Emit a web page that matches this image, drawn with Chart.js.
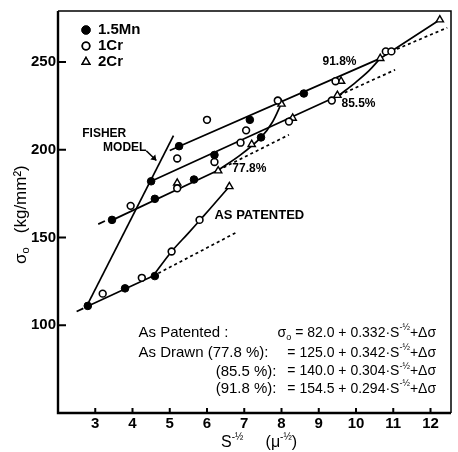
<!DOCTYPE html>
<html>
<head>
<meta charset="utf-8">
<script src="https://cdn.jsdelivr.net/npm/chart.js@4.4.0/dist/chart.umd.min.js"></script>
<style>
  html, body { margin: 0; padding: 0; background: #fff; }
</style>
</head>
<body>
<canvas id="myChart" width="458" height="452"></canvas>
<script>
// axis ticks
var xTicks = [3, 4, 5, 6, 7, 8, 9, 10, 11, 12];
var yTicks = [100, 150, 200, 250];

// measured points, x = S^-1/2, y = sigma0 (kg/mm2)
var mnX = [2.8, 3.8, 4.6, 3.45, 4.6, 4.5, 5.25, 5.65, 6.2, 7.15, 7.45, 8.6];
var mnY = [111, 121, 128, 160, 172, 182, 202, 183, 197, 217, 207, 232];
var crX = [3.2, 4.25, 5.05, 5.8, 3.95, 5.2, 5.2, 6.0, 6.2, 6.9, 7.05, 7.9, 8.2, 9.35, 9.45, 10.8, 10.95];
var crY = [118, 127, 142, 160, 168, 195, 178, 217, 193, 204, 211, 228, 216, 228, 239, 256, 256];
var cr2X = [5.2, 6.3, 6.6, 7.2, 8.0, 8.3, 9.5, 9.6, 10.65, 12.25];
var cr2Y = [181, 188, 179, 203, 226, 218, 231, 239, 252, 274];

// drawn lines
var fisherX = [2.75, 5.1], fisherY = [110, 208];
var baseLeadX = [2.5, 2.68], baseLeadY = [107.8, 109.6];
var baseX = [2.78, 4.55], baseY = [110.7, 128];
var baseDashX = [4.55, 6.8], baseDashY = [128, 153];
var patentX = [4.55, 5.05, 5.5, 5.9, 6.25, 6.6], patentY = [128, 142, 152.5, 162, 170.5, 179];
var lead778X = [3.08, 3.26], lead778Y = [157.6, 159.4];
var d778X = [3.4, 6.3], d778Y = [159.3, 188.3];
var d778DashX = [6.3, 8.2], d778DashY = [188.3, 208.5];
var up778X = [6.3, 6.9, 7.45, 7.75, 8.0], up778Y = [188.3, 197, 207, 215.5, 226.5];
var d855X = [4.5, 9.55], d855Y = [182, 231];
var d855DashX = [9.55, 11.05], d855DashY = [231, 245.5];
var up855X = [9.55, 10.0, 10.35, 10.65], up855Y = [231, 238.5, 245, 252];
var d918X = [5.0, 10.65, 12.25], d918Y = [199.5, 252, 274];
var d918DashX = [10.95, 12.45], d918DashY = [256, 269.5];

// legend + labels
var seriesNames = ['1.5Mn', '1Cr', '2Cr'];
var eqNames = ['As Patented :', 'As Drawn (77.8 %):', '(85.5 %):', '(91.8 %):'];
var eqConst = ['82.0', '125.0', '140.0', '154.5'];
var eqCoef = ['0.332', '0.342', '0.304', '0.294'];

var FONT = 'Liberation Sans';

function pts(xs, ys) {
  return xs.map(function (x, i) { return { x: x, y: ys[i] }; });
}

function line(xs, ys, dash, tension) {
  return {
    data: pts(xs, ys),
    showLine: true,
    borderColor: '#000',
    borderWidth: 1.7,
    borderDash: dash || [],
    pointRadius: 0,
    tension: tension || 0,
    fill: false
  };
}

var filledStyle = { pointStyle: 'circle', radius: 3.8, backgroundColor: '#000', borderColor: '#000', borderWidth: 1 };
var openStyle = { pointStyle: 'circle', radius: 3.4, backgroundColor: '#fff', borderColor: '#000', borderWidth: 1.6 };
var triStyle = { pointStyle: 'triangle', radius: 4.2, backgroundColor: '#fff', borderColor: '#000', borderWidth: 1.4 };

function marks(xs, ys, st) {
  return {
    data: pts(xs, ys),
    showLine: false,
    pointStyle: st.pointStyle,
    pointRadius: st.radius,
    pointBackgroundColor: st.backgroundColor,
    pointBorderColor: st.borderColor,
    pointBorderWidth: st.borderWidth
  };
}

// text with super/subscripts; parts = [text, kind] kind 0 normal, 1 sup, 2 sub
function rich(ctx, parts, x, y, align, size, weight) {
  function fnt(p) {
    var s = p[1] ? Math.round(size * 0.62) : size;
    return (weight || 'normal') + ' ' + s + 'px "' + FONT + '"';
  }
  var w = 0;
  parts.forEach(function (p) { ctx.font = fnt(p); w += ctx.measureText(p[0]).width; });
  var cx = align === 'right' ? x - w : (align === 'center' ? x - w / 2 : x);
  ctx.textAlign = 'left';
  ctx.textBaseline = 'middle';
  parts.forEach(function (p) {
    ctx.font = fnt(p);
    var dy = p[1] === 1 ? -size * 0.38 : (p[1] === 2 ? size * 0.3 : 0);
    ctx.fillText(p[0], cx, y + dy);
    cx += ctx.measureText(p[0]).width;
  });
}

var decor = {
  id: 'decor',
  afterDraw: function (chart) {
    var ctx = chart.ctx, a = chart.chartArea;
    var sx = chart.scales.x, sy = chart.scales.y;
    function px(v) { return sx.getPixelForValue(v); }
    function py(v) { return sy.getPixelForValue(v); }
    ctx.save();
    ctx.strokeStyle = '#000';
    ctx.fillStyle = '#000';

    // frame
    ctx.lineWidth = 1.5;
    ctx.beginPath();
    ctx.moveTo(a.left, a.top); ctx.lineTo(a.right, a.top); ctx.lineTo(a.right, a.bottom);
    ctx.stroke();
    ctx.lineWidth = 2.4;
    ctx.beginPath();
    ctx.moveTo(a.left, a.top); ctx.lineTo(a.left, a.bottom); ctx.lineTo(a.right, a.bottom);
    ctx.stroke();

    // inward ticks
    ctx.lineWidth = 2;
    ctx.beginPath();
    yTicks.forEach(function (v) { ctx.moveTo(a.left - 1, py(v)); ctx.lineTo(a.left + 8, py(v)); });
    xTicks.forEach(function (v) { ctx.moveTo(px(v), a.bottom); ctx.lineTo(px(v), a.bottom - 5); });
    ctx.stroke();

    // legend
    var styles = [filledStyle, openStyle, triStyle];
    seriesNames.forEach(function (n, i) {
      var ly = a.top + 19 + i * 16;
      var st = styles[i];
      ctx.lineWidth = st.borderWidth;
      ctx.fillStyle = st.backgroundColor;
      Chart.helpers.drawPoint(ctx, { pointStyle: st.pointStyle, radius: st.radius + 0.3, borderWidth: st.borderWidth }, a.left + 28, ly);
      ctx.fill();
      ctx.stroke();
      ctx.fillStyle = '#000';
      rich(ctx, [[n, 0]], a.left + 40, ly, 'left', 15, 'bold');
    });

    // labels on the plot
    rich(ctx, [['FISHER', 0]], px(2.65), py(209), 'left', 12, 'bold');
    rich(ctx, [['MODEL', 0]], px(3.21), py(201), 'left', 12, 'bold');
    rich(ctx, [['77.8%', 0]], px(6.68), py(189.3), 'left', 12, 'bold');
    rich(ctx, [['91.8%', 0]], px(9.1), py(250), 'left', 12, 'bold');
    rich(ctx, [['85.5%', 0]], px(9.61), py(226.4), 'left', 12, 'bold');
    rich(ctx, [['AS PATENTED', 0]], px(6.2), py(162.4), 'left', 13, 'bold');

    // arrow to the Fisher line
    var ax0 = px(4.37), ay0 = py(199.4), ax1 = px(4.64), ay1 = py(193.8);
    ctx.lineWidth = 1.5;
    ctx.beginPath();
    ctx.moveTo(ax0, ay0); ctx.lineTo(ax1, ay1);
    ctx.stroke();
    ctx.beginPath();
    ctx.moveTo(ax1, ay1); ctx.lineTo(ax1 - 6, ay1 - 1); ctx.lineTo(ax1 - 1, ay1 - 6); ctx.closePath();
    ctx.fill();

    // equations
    var rowY = [95.5, 84.3, 73.6, 63.5];
    eqNames.forEach(function (n, i) {
      var y = py(rowY[i]);
      if (i < 2) rich(ctx, [[n, 0]], px(4.16), y, 'left', 15);
      else rich(ctx, [[n, 0]], px(8.0) - 5, y, 'right', 15);
      var parts = i === 0 ? [['\u03c3', 0], ['o', 2], [' = ', 0]] : [['= ', 0]];
      parts = parts.concat([[eqConst[i] + ' + ' + eqCoef[i] + '\u00b7S', 0], ['-\u00bd', 1], ['+\u0394\u03c3', 0]]);
      rich(ctx, parts, px(12.15), y, 'right', 14);
    });

    // axis titles
    rich(ctx, [['S', 0], ['-\u00bd', 1], ['     (\u03bc', 0], ['-\u00bd', 1], [')', 0]], 221, 443, 'left', 16);
    ctx.translate(21, 264);
    ctx.rotate(-Math.PI / 2);
    rich(ctx, [['\u03c3', 0], ['o', 2], ['   (kg/mm\u00b2)', 0]], 0, 0, 'left', 17);
    ctx.restore();
  }
};

var datasets = [
  marks(mnX, mnY, filledStyle),
  marks(crX, crY, openStyle),
  marks(cr2X, cr2Y, triStyle),
  line(fisherX, fisherY),
  line(baseLeadX, baseLeadY),
  line(baseX, baseY),
  line(baseDashX, baseDashY, [3, 3]),
  line(patentX, patentY, null, 0.35),
  line(lead778X, lead778Y),
  line(d778X, d778Y),
  line(d778DashX, d778DashY, [3, 3]),
  line(up778X, up778Y, null, 0.35),
  line(d855X, d855Y),
  line(d855DashX, d855DashY, [3, 3]),
  line(up855X, up855Y, null, 0.35),
  line(d918X, d918Y),
  line(d918DashX, d918DashY, [3, 3])
];

var config = {
  type: 'scatter',
  data: { datasets: datasets },
  options: {
    responsive: false,
    animation: false,
    layout: { padding: { top: 5, right: 7, left: 0, bottom: 0 } },
    plugins: { legend: { display: false }, tooltip: { enabled: false } },
    scales: {
      x: {
        type: 'linear', min: 2, max: 12.55,
        afterBuildTicks: function (s) { s.ticks = xTicks.map(function (v) { return { value: v }; }); },
        afterFit: function (s) { s.height = 39; },
        grid: { display: false, drawTicks: false },
        border: { display: false },
        ticks: { color: '#000', font: { family: FONT, size: 15, weight: 'bold' }, padding: 2, maxRotation: 0, autoSkip: false }
      },
      y: {
        type: 'linear', min: 50, max: 279,
        afterBuildTicks: function (s) { s.ticks = yTicks.map(function (v) { return { value: v }; }); },
        afterFit: function (s) { s.width = 58; },
        grid: { display: false, drawTicks: false },
        border: { display: false },
        ticks: { color: '#000', font: { family: FONT, size: 15, weight: 'bold' }, padding: 2, autoSkip: false }
      }
    }
  },
  plugins: [decor]
};

const myChart = new Chart(document.getElementById('myChart'), config);
</script>
</body>
</html>
